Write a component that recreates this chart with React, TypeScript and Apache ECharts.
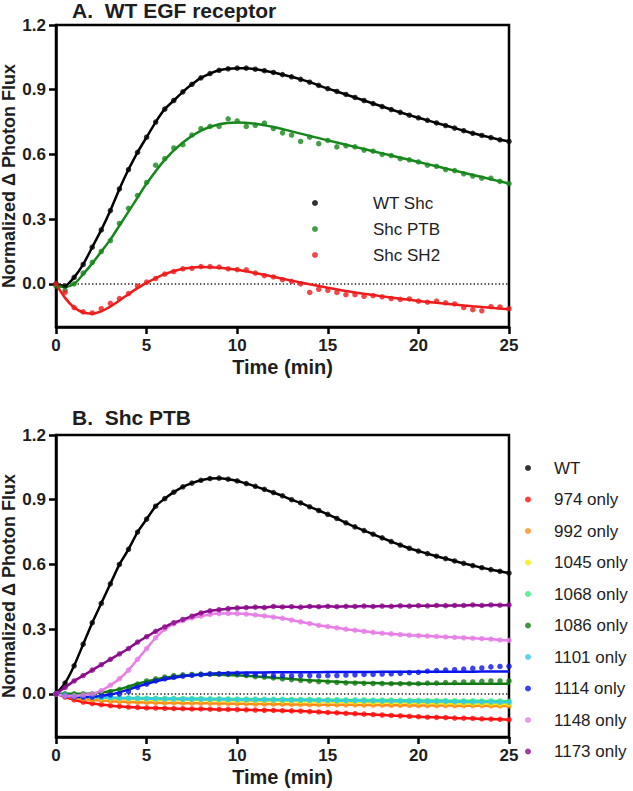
import { useEffect, useRef } from "react";
import * as echarts from "echarts";

// time grid of the measured points (min)
const T = [0, 0.5, 1, 1.5, 2, 2.5, 3, 3.5, 4, 4.5, 5, 5.5, 6, 6.5, 7, 7.5, 8, 8.5, 9, 9.5, 10, 10.5, 11, 11.5, 12, 12.5, 13, 13.5, 14, 14.5, 15, 15.5, 16, 16.5, 17, 17.5, 18, 18.5, 19, 19.5, 20, 20.5, 21, 21.5, 22, 22.5, 23, 23.5, 24, 24.5, 25];
// time grid of fitted curves (min)
const FIT_T = [0, 0.5, 1, 1.5, 2, 2.5, 3, 3.5, 4, 4.5, 5, 6, 7, 8, 9, 10, 11, 12, 13, 14, 15, 16, 17, 18, 19, 20, 21, 22, 23, 24, 25];

const X_TICKS = [0, 5, 10, 15, 20, 25];
const Y_TICKS = [0, 0.3, 0.6, 0.9, 1.2];

// Panel A
const A_WT = [0.0, -0.01, 0.03, 0.09, 0.17, 0.25, 0.34, 0.44, 0.53, 0.61, 0.68, 0.75, 0.81, 0.85, 0.89, 0.925, 0.955, 0.975, 0.99, 0.997, 1.0, 1.0, 0.995, 0.988, 0.98, 0.97, 0.96, 0.948, 0.935, 0.92, 0.905, 0.892, 0.878, 0.864, 0.85, 0.836, 0.822, 0.808, 0.795, 0.782, 0.77, 0.758, 0.746, 0.734, 0.722, 0.71, 0.698, 0.688, 0.678, 0.668, 0.66];
const A_PTB = [-0.01, -0.03, 0.0, 0.05, 0.1, 0.15, 0.2, 0.28, 0.35, 0.41, 0.47, 0.55, 0.58, 0.63, 0.645, 0.69, 0.72, 0.73, 0.73, 0.765, 0.755, 0.73, 0.735, 0.745, 0.72, 0.7, 0.69, 0.66, 0.68, 0.65, 0.665, 0.635, 0.64, 0.635, 0.62, 0.615, 0.6, 0.595, 0.58, 0.575, 0.565, 0.55, 0.545, 0.53, 0.525, 0.51, 0.5, 0.49, 0.49, 0.475, 0.465];
const A_PTB_FIT = [-0.01, -0.015, 0.0, 0.045, 0.095, 0.15, 0.205, 0.27, 0.335, 0.4, 0.465, 0.575, 0.655, 0.71, 0.74, 0.748, 0.742, 0.727, 0.707, 0.686, 0.665, 0.645, 0.625, 0.605, 0.585, 0.565, 0.545, 0.525, 0.505, 0.485, 0.465];
const A_SH2 = [0.0, -0.04, -0.11, -0.13, -0.135, -0.115, -0.09, -0.068, -0.045, -0.01, 0.008, 0.025, 0.045, 0.057, 0.07, 0.072, 0.08, 0.08, 0.078, 0.07, 0.066, 0.065, 0.05, 0.038, 0.032, 0.02, 0.012, 0.0, -0.04, -0.025, -0.03, -0.04, -0.05, -0.05, -0.058, -0.055, -0.06, -0.068, -0.072, -0.07, -0.08, -0.085, -0.08, -0.088, -0.093, -0.11, -0.12, -0.125, -0.105, -0.107, -0.115];
const A_SH2_FIT = [0.0, -0.065, -0.11, -0.133, -0.138, -0.127, -0.105, -0.077, -0.048, -0.02, 0.005, 0.045, 0.07, 0.078, 0.075, 0.065, 0.05, 0.033, 0.015, -0.002, -0.018, -0.033, -0.046, -0.058, -0.069, -0.079, -0.088, -0.096, -0.104, -0.111, -0.118];

// Panel B
const B_WT = [0.0, 0.05, 0.13, 0.23, 0.33, 0.42, 0.51, 0.6, 0.67, 0.75, 0.81, 0.87, 0.905, 0.935, 0.96, 0.977, 0.99, 0.998, 1.0, 0.995, 0.987, 0.975, 0.962, 0.948, 0.933, 0.918, 0.9, 0.885, 0.867, 0.85, 0.832, 0.813, 0.793, 0.774, 0.757, 0.74, 0.723, 0.706, 0.69, 0.675, 0.662, 0.65, 0.638, 0.627, 0.616, 0.605, 0.595, 0.585, 0.576, 0.568, 0.56];
const B_974 = [0, -0.015, -0.028, -0.038, -0.045, -0.05, -0.055, -0.058, -0.061, -0.063, -0.065, -0.066, -0.067, -0.068, -0.069, -0.07, -0.07, -0.071, -0.072, -0.072, -0.073, -0.074, -0.075, -0.076, -0.077, -0.078, -0.079, -0.08, -0.082, -0.084, -0.086, -0.088, -0.09, -0.092, -0.094, -0.096, -0.098, -0.1, -0.102, -0.104, -0.106, -0.108, -0.109, -0.11, -0.112, -0.113, -0.114, -0.116, -0.117, -0.118, -0.12];
const B_992 = [0, -0.01, -0.018, -0.024, -0.028, -0.031, -0.034, -0.036, -0.038, -0.039, -0.04, -0.041, -0.042, -0.042, -0.043, -0.043, -0.044, -0.044, -0.045, -0.045, -0.046, -0.046, -0.047, -0.047, -0.048, -0.048, -0.049, -0.049, -0.05, -0.05, -0.05, -0.051, -0.051, -0.051, -0.052, -0.052, -0.052, -0.053, -0.053, -0.053, -0.054, -0.054, -0.054, -0.054, -0.055, -0.055, -0.055, -0.055, -0.056, -0.056, -0.056];
const B_1045 = [0, -0.006, -0.011, -0.015, -0.018, -0.02, -0.022, -0.023, -0.024, -0.025, -0.026, -0.027, -0.027, -0.028, -0.028, -0.029, -0.029, -0.03, -0.03, -0.031, -0.031, -0.032, -0.032, -0.033, -0.033, -0.034, -0.034, -0.035, -0.035, -0.036, -0.036, -0.037, -0.037, -0.038, -0.038, -0.039, -0.039, -0.04, -0.04, -0.041, -0.041, -0.042, -0.042, -0.043, -0.043, -0.044, -0.045, -0.045, -0.046, -0.047, -0.048];
const B_1068 = [0, -0.005, -0.009, -0.012, -0.014, -0.016, -0.017, -0.018, -0.019, -0.019, -0.02, -0.02, -0.021, -0.021, -0.022, -0.022, -0.022, -0.023, -0.023, -0.023, -0.024, -0.024, -0.024, -0.025, -0.025, -0.025, -0.026, -0.026, -0.026, -0.027, -0.027, -0.027, -0.028, -0.028, -0.028, -0.029, -0.029, -0.029, -0.03, -0.03, -0.03, -0.031, -0.031, -0.031, -0.032, -0.032, -0.032, -0.033, -0.033, -0.033, -0.034];
const B_1086 = [0, 0.0, 0.0, 0.0, 0.0, 0.005, 0.01, 0.02, 0.03, 0.045, 0.06, 0.07, 0.078, 0.085, 0.088, 0.09, 0.092, 0.093, 0.092, 0.09, 0.088, 0.085, 0.08, 0.078, 0.074, 0.07, 0.066, 0.063, 0.06, 0.057, 0.055, 0.053, 0.051, 0.05, 0.049, 0.048, 0.048, 0.047, 0.047, 0.047, 0.047, 0.05, 0.05, 0.052, 0.052, 0.055, 0.055, 0.058, 0.06, 0.06, 0.06];
const B_1086_FIT = [0, 0.0, 0.0, 0.0, 0.002, 0.006, 0.013, 0.022, 0.034, 0.047, 0.058, 0.075, 0.085, 0.089, 0.089, 0.086, 0.081, 0.075, 0.069, 0.063, 0.058, 0.054, 0.051, 0.049, 0.048, 0.047, 0.047, 0.047, 0.047, 0.047, 0.047];
const B_1101 = [0, -0.006, -0.01, -0.013, -0.016, -0.018, -0.019, -0.02, -0.021, -0.022, -0.023, -0.023, -0.024, -0.024, -0.025, -0.025, -0.026, -0.026, -0.026, -0.027, -0.027, -0.028, -0.028, -0.028, -0.029, -0.029, -0.03, -0.03, -0.03, -0.031, -0.031, -0.032, -0.032, -0.032, -0.033, -0.033, -0.034, -0.034, -0.034, -0.035, -0.035, -0.036, -0.036, -0.036, -0.037, -0.037, -0.038, -0.038, -0.038, -0.039, -0.039];
const B_1114 = [0, -0.01, -0.015, -0.015, -0.015, -0.01, -0.005, 0.0, 0.01, 0.03, 0.045, 0.06, 0.07, 0.077, 0.082, 0.086, 0.089, 0.092, 0.093, 0.094, 0.095, 0.092, 0.09, 0.088, 0.085, 0.085, 0.083, 0.085, 0.085, 0.083, 0.085, 0.085, 0.087, 0.088, 0.09, 0.09, 0.092, 0.093, 0.095, 0.098, 0.1, 0.105, 0.108, 0.11, 0.112, 0.115, 0.118, 0.12, 0.125, 0.127, 0.128];
const B_1114_FIT = [0, -0.008, -0.013, -0.015, -0.014, -0.01, -0.003, 0.007, 0.02, 0.034, 0.047, 0.068, 0.082, 0.09, 0.095, 0.098, 0.099, 0.1, 0.1, 0.1, 0.101, 0.101, 0.101, 0.102, 0.102, 0.102, 0.103, 0.103, 0.103, 0.104, 0.104];
const B_1148 = [0, -0.01, -0.01, -0.005, 0.0, 0.015, 0.04, 0.07, 0.11, 0.16, 0.21, 0.26, 0.3, 0.325, 0.34, 0.352, 0.36, 0.368, 0.372, 0.373, 0.372, 0.37, 0.366, 0.361, 0.356, 0.35, 0.342, 0.334, 0.326, 0.318, 0.312, 0.306, 0.3, 0.295, 0.29, 0.285, 0.281, 0.278, 0.275, 0.272, 0.27, 0.268, 0.266, 0.264, 0.262, 0.26, 0.258, 0.256, 0.254, 0.25, 0.248];
const B_1173 = [0, 0.03, 0.06, 0.085, 0.11, 0.135, 0.16, 0.185, 0.21, 0.24, 0.265, 0.29, 0.31, 0.33, 0.345, 0.36, 0.375, 0.385, 0.39, 0.395, 0.398, 0.4, 0.402, 0.4, 0.405, 0.403, 0.404, 0.402, 0.405, 0.404, 0.406, 0.404, 0.406, 0.405, 0.407, 0.405, 0.407, 0.406, 0.408, 0.407, 0.409, 0.408, 0.41, 0.409, 0.41, 0.41, 0.412, 0.41, 0.412, 0.411, 0.412];

type Spec = { name: string; color: string; dots: number[]; fit?: number[] };

const A_SPECS: Spec[] = [
  { name: "WT Shc", color: "#000000", dots: A_WT },
  { name: "Shc PTB", color: "#17871b", dots: A_PTB, fit: A_PTB_FIT },
  { name: "Shc SH2", color: "#ee1c1c", dots: A_SH2, fit: A_SH2_FIT },
];

const B_SPECS: Spec[] = [
  { name: "WT", color: "#000000", dots: B_WT },
  { name: "974 only", color: "#ff1010", dots: B_974 },
  { name: "992 only", color: "#ff8c1a", dots: B_992 },
  { name: "1045 only", color: "#f5ee00", dots: B_1045 },
  { name: "1068 only", color: "#33ee77", dots: B_1068 },
  { name: "1086 only", color: "#137a13", dots: B_1086, fit: B_1086_FIT },
  { name: "1101 only", color: "#33c8ee", dots: B_1101 },
  { name: "1114 only", color: "#0a14ee", dots: B_1114, fit: B_1114_FIT },
  { name: "1148 only", color: "#e67ee6", dots: B_1148 },
  { name: "1173 only", color: "#8b0a8b", dots: B_1173 },
];

const FONT = "'Liberation Sans', Arial, Helvetica, sans-serif";
const INK = "#1e1e1e";

function buildSeries(specs: Spec[], idx: number) {
  const out: any[] = [];
  specs.forEach((s, k) => {
    const lineData = s.fit
      ? FIT_T.map((t, i) => [t, s.fit![i]])
      : T.map((t, i) => [t, s.dots[i]]);
    const line: any = {
      type: "line",
      name: s.name + " fit",
      xAxisIndex: idx,
      yAxisIndex: idx,
      data: lineData,
      showSymbol: false,
      symbol: "none",
      smooth: s.fit ? 0.3 : 0.15,
      silent: true,
      z: 3,
      lineStyle: { width: 2.5, color: s.color },
      itemStyle: { color: s.color },
    };
    if (k === 0) {
      line.markLine = {
        silent: true,
        symbol: "none",
        z: 1,
        label: { show: false },
        emphasis: { disabled: true },
        lineStyle: { type: [1.4, 2.2], color: "#222", width: 1.5 },
        data: [{ yAxis: 0 }],
      };
    }
    out.push(line);
    out.push({
      type: "scatter",
      name: s.name,
      xAxisIndex: idx,
      yAxisIndex: idx,
      z: 3,
      data: T.map((t, i) => [t, s.dots[i]]),
      symbolSize: 5.5,
      itemStyle: { color: s.color },
    });
  });
  return out;
}

function xAxisCfg(gridIndex: number) {
  return {
    type: "value",
    gridIndex,
    min: X_TICKS[0],
    max: X_TICKS[X_TICKS.length - 1],
    interval: 5,
    name: "Time (min)",
    nameLocation: "middle",
    nameGap: 30,
    nameMoveOverlap: false,
    nameTextStyle: { fontSize: 20, fontWeight: "bold", color: INK, fontFamily: FONT },
    axisLine: { show: true, onZero: false, lineStyle: { color: "#000", width: 2.5 } },
    axisTick: { show: true, length: 7, lineStyle: { color: "#000", width: 2.5 } },
    axisLabel: { fontSize: 17, fontWeight: "bold", color: INK, margin: 10, fontFamily: FONT },
    splitLine: { show: false },
  };
}

function yAxisCfg(gridIndex: number) {
  return {
    type: "value",
    gridIndex,
    min: -0.2,
    max: 1.2,
    name: "Normalized \u0394 Photon Flux",
    nameLocation: "middle",
    nameGap: 38,
    nameMoveOverlap: false,
    nameTextStyle: { fontSize: 18, fontWeight: "bold", color: INK, fontFamily: FONT },
    axisLine: { show: true, onZero: false, lineStyle: { color: "#000", width: 2.5 } },
    axisTick: { show: true, length: 7, customValues: Y_TICKS, lineStyle: { color: "#000", width: 2.5 } },
    axisLabel: {
      customValues: Y_TICKS,
      fontSize: 17,
      fontWeight: "bold",
      color: INK,
      margin: 10,
      fontFamily: FONT,
      formatter: (v: number) => v.toFixed(1),
    },
    splitLine: { show: false },
  };
}

export default function App() {
  const ref = useRef<HTMLDivElement>(null);
  useEffect(() => {
    if (!ref.current) return;
    const chart = echarts.init(ref.current, undefined, { renderer: "svg" });
    const legendTextA = { fontSize: 17, color: INK, fontFamily: FONT, lineHeight: 20, padding: [0, 0, 0, 50] };
    const legendTextB = { fontSize: 17, color: INK, fontFamily: FONT, lineHeight: 20, padding: [0, 0, 0, 18] };
    chart.setOption({
      animation: false,
      backgroundColor: "#ffffff",
      textStyle: { fontFamily: FONT },
      title: [
        {
          text: "A.  WT EGF receptor",
          left: 72,
          top: 0,
          padding: 0,
          textStyle: { fontSize: 21, fontWeight: "bold", color: INK, fontFamily: FONT },
        },
        {
          text: "B.  Shc PTB",
          left: 72,
          top: 407,
          padding: 0,
          textStyle: { fontSize: 21, fontWeight: "bold", color: INK, fontFamily: FONT },
        },
      ],
      grid: [
        { left: 56, top: 25, width: 453, height: 302, outerBoundsMode: "none", containLabel: false, show: true, borderColor: "#000", borderWidth: 2.5, backgroundColor: "transparent" },
        { left: 56, top: 435, width: 453, height: 302, outerBoundsMode: "none", containLabel: false, show: true, borderColor: "#000", borderWidth: 2.5, backgroundColor: "transparent" },
      ],
      xAxis: [xAxisCfg(0), xAxisCfg(1)],
      yAxis: [yAxisCfg(0), yAxisCfg(1)],
      legend: [
        {
          data: A_SPECS.map((s) => s.name),
          orient: "vertical",
          left: 312,
          top: 193,
          padding: 0,
          icon: "circle",
          itemWidth: 6,
          itemHeight: 6,
          itemGap: 6,
          selectedMode: false,
          textStyle: legendTextA,
        },
        {
          data: B_SPECS.map((s) => s.name),
          orient: "vertical",
          left: 525,
          top: 458,
          padding: 0,
          icon: "circle",
          itemWidth: 6,
          itemHeight: 6,
          itemGap: 11.5,
          selectedMode: false,
          textStyle: legendTextB,
        },
      ],
      series: [...buildSeries(A_SPECS, 0), ...buildSeries(B_SPECS, 1)],
    });
    return () => chart.dispose();
  }, []);
  return (
    <div
      ref={ref}
      style={{ position: "absolute", left: 0, top: 0, width: 633, height: 791, background: "#fff" }}
    />
  );
}
